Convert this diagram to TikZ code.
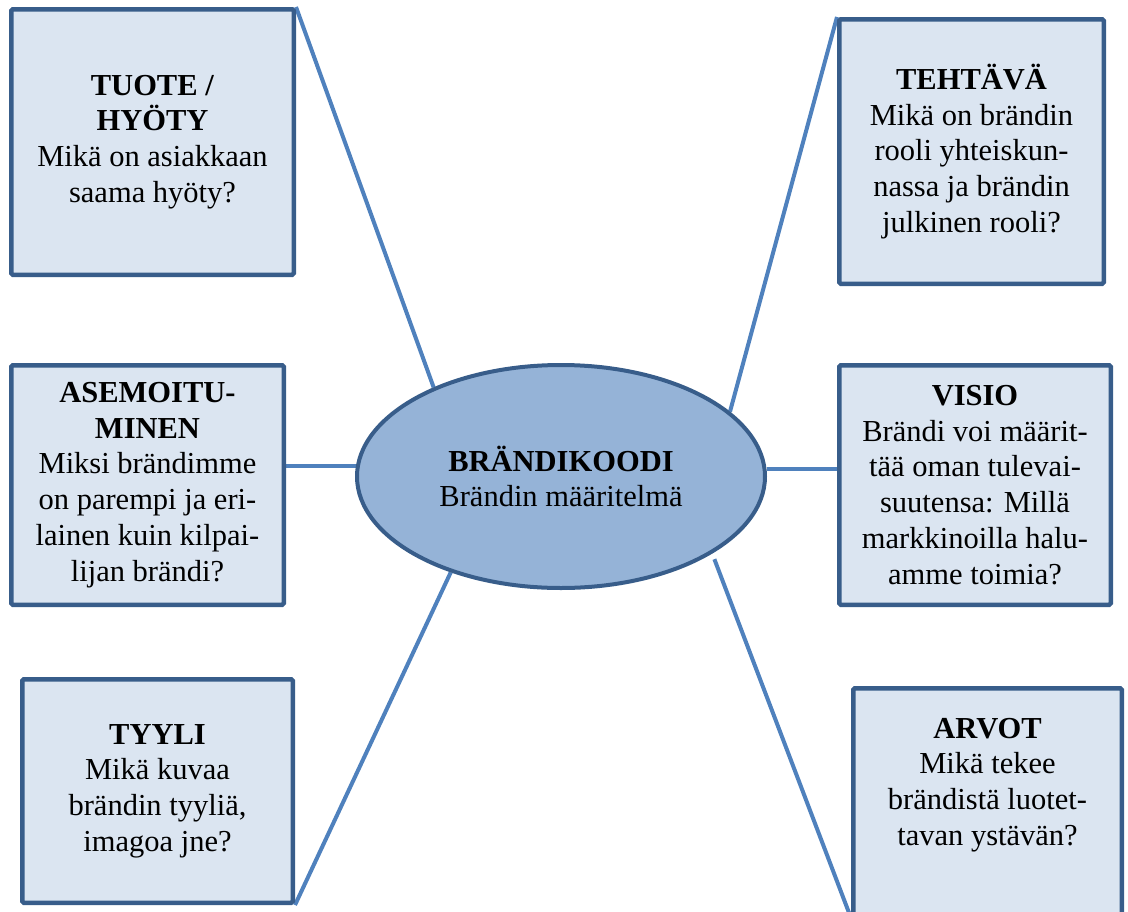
\documentclass[tikz,border=0pt]{standalone}
\usepackage{fontspec}
\setmainfont{Liberation Serif}
\usetikzlibrary{shapes.geometric,backgrounds}
\definecolor{boxfill}{HTML}{DBE5F1}
\definecolor{boxline}{HTML}{385D8A}
\definecolor{ellfill}{HTML}{95B3D7}
\definecolor{conn}{HTML}{4F81BD}
\begin{document}
\begin{tikzpicture}[x=1pt,y=-1pt,
  txt/.style={align=center, font=\fontsize{30.5}{35.8}\selectfont},
  infobox/.style={txt, draw=boxline, fill=boxfill, line width=4.5pt, rounded corners=1.5pt, inner sep=0pt},
  core/.style={txt, ellipse, draw=boxline, fill=ellfill, line width=4pt, inner sep=0pt},
  link/.style={draw=conn, line width=4pt}
]
\useasboundingbox (0,0) rectangle (1128,911);

\node[infobox, minimum width=282.5pt, minimum height=265.5pt] (tuote) at (152.5,142)
  {\textbf{TUOTE /}\\\textbf{HYÖTY}\\Mikä on asiakkaan\\saama hyöty?};
\node[infobox, minimum width=264.5pt, minimum height=264.5pt] (teht) at (971.5,151.5)
  {\textbf{TEHTÄVÄ}\\Mikä on brändin\\rooli yhteiskun-\\nassa ja brändin\\julkinen rooli?};
\node[infobox, minimum width=272.5pt, minimum height=239.5pt] (asemo) at (147.5,485)
  {\textbf{ASEMOITU-}\\\textbf{MINEN}\\Miksi brändimme\\on parempi ja eri-\\lainen kuin kilpai-\\lijan brändi?};
\node[infobox, minimum width=271.5pt, minimum height=239.5pt] (visio) at (975,485)
  {\textbf{VISIO}\\Brändi voi määrit-\\tää oman tulevai-\\suutensa: Millä\\markkinoilla halu-\\amme toimia?};
\node[infobox, minimum width=270.5pt, minimum height=223.5pt] (tyyli) at (157.5,791)
  {\textbf{TYYLI}\\Mikä kuvaa\\brändin tyyliä,\\imagoa jne?};
\node[infobox, minimum width=268.5pt, minimum height=227.5pt] (arvot) at (987.5,802) {};
\node[txt] (arvotxt) at (987.5,785)
  {\textbf{ARVOT}\\Mikä tekee\\brändistä luotet-\\tavan ystävän?};

\node[core, minimum width=408pt, minimum height=223pt] (kood) at (561,476.5)
  {\textbf{BRÄNDIKOODI}\\Brändin määritelmä};

\begin{scope}[on background layer]
\draw[link] (tuote.north east) -- (kood.145.2);
\draw[link] (teht.north west) -- (kood.21.7);
\draw[link] (kood.177.35) -- (asemo.east |- kood.177.35);
\draw[link] (kood.2.65) -- (visio.west |- kood.2.65);
\draw[link] (kood.221.5) -- (tyyli.south east);
\draw[link, shorten <=6pt] (kood.333) -- (arvot.south west);
\end{scope}
\end{tikzpicture}
\end{document}
